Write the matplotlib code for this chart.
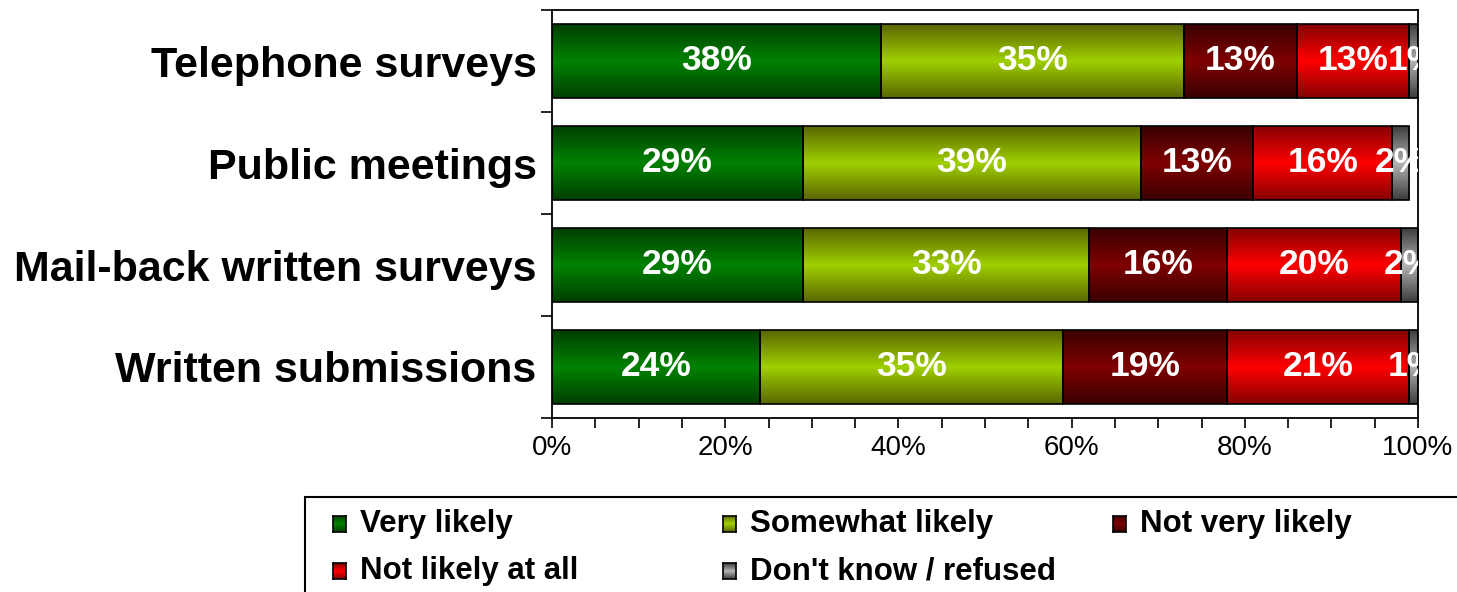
import numpy as np
import matplotlib
matplotlib.use("Agg")
import matplotlib.pyplot as plt
from matplotlib.colors import LinearSegmentedColormap
from matplotlib.patches import Rectangle
from matplotlib.ticker import MultipleLocator, FuncFormatter

plt.rcParams['font.family'] = ['Liberation Sans', 'DejaVu Sans']

# data
categories = ["Telephone surveys", "Public meetings",
              "Mail-back written surveys", "Written submissions"]
series = ["Very likely", "Somewhat likely", "Not very likely",
          "Not likely at all", "Don't know / refused"]
very_likely = [38, 29, 29, 24]
somewhat_likely = [35, 39, 33, 35]
not_very_likely = [13, 13, 16, 19]
not_likely_at_all = [13, 16, 20, 21]
dont_know = [1, 2, 2, 1]
values = [very_likely, somewhat_likely, not_very_likely, not_likely_at_all, dont_know]

# (edge shade, middle shade) for the vertical gradient of each series
shades = [("#003f00", "#008200"),
          ("#5a6600", "#9fd000"),
          ("#3a0000", "#800000"),
          ("#850000", "#ff0000"),
          ("#3c3c3c", "#b4b4b4")]

W, H = 1457, 592
fig = plt.figure(figsize=(W / 100, H / 100), dpi=100)
fig.patch.set_facecolor("white")
ax = fig.add_axes([552 / W, 1 - 418 / H, (1418 - 552) / W, (418 - 10) / H])

grad = np.linspace(0, 1, 128).reshape(-1, 1)
ypos = np.arange(len(categories))
left = np.zeros(len(categories))
bar_h = 0.72

for vals, (dark, mid) in zip(values, shades):
    cmap = LinearSegmentedColormap.from_list("g", [dark, mid, dark])
    bars = ax.barh(ypos, vals, left=left, height=bar_h, facecolor="none",
                   edgecolor="black", linewidth=1.2, zorder=3)
    for p in bars.patches:
        x0, y0 = p.get_x(), p.get_y()
        ax.imshow(grad, cmap=cmap, aspect="auto", zorder=2,
                  extent=[x0, x0 + p.get_width(), y0 + p.get_height(), y0])
    for i, v in enumerate(vals):
        ax.text(left[i] + v / 2, ypos[i], f"{v}%", ha="center", va="center",
                color="white", fontsize=25.5, fontweight="bold", zorder=4,
                clip_on=True)
    left = left + np.array(vals)

ax.set_xlim(0, 100)
ax.set_ylim(len(categories) - 0.5, -0.5)
ax.xaxis.set_major_locator(MultipleLocator(20))
ax.xaxis.set_minor_locator(MultipleLocator(5))
ax.xaxis.set_major_formatter(FuncFormatter(lambda x, _: f"{int(x)}%"))
ax.tick_params(axis="x", which="both", direction="out", length=7,
               width=1.2, labelsize=20, pad=5)

ax.set_yticks(np.arange(len(categories) + 1) - 0.5)
ax.set_yticklabels([])
ax.set_yticks(ypos, minor=True)
ax.set_yticklabels(categories, minor=True, fontsize=31, fontweight="bold")
ax.tick_params(axis="y", which="major", direction="out", length=8, width=1.2)
ax.tick_params(axis="y", which="minor", length=0, pad=11)

for s in ax.spines.values():
    s.set_linewidth(1.3)
    s.set_color("black")

# legend box (runs off the right and bottom of the figure)
fig.patches.append(Rectangle((305 / W, -0.1), 2, (H - 497) / H + 0.1,
                             transform=fig.transFigure, facecolor="white",
                             edgecolor="black", linewidth=1.5, zorder=-1))
col_x = [333, 723, 1113]
row_y = [524, 571]
for i, (name, (dark, mid)) in enumerate(zip(series, shades)):
    x = col_x[i % 3]
    y = row_y[i // 3]
    hax = fig.add_axes([x / W, 1 - (y + 8) / H, 13 / W, 16 / H])
    hcmap = LinearSegmentedColormap.from_list("h", [dark, mid, dark])
    hax.imshow(grad, cmap=hcmap, aspect="auto")
    hax.set_xticks([])
    hax.set_yticks([])
    for s in hax.spines.values():
        s.set_linewidth(1.2)
    fig.text((x + 27) / W, 1 - y / H, name, ha="left", va="center",
             fontsize=22.5, fontweight="bold")

fig.savefig("out.png", dpi=100)
